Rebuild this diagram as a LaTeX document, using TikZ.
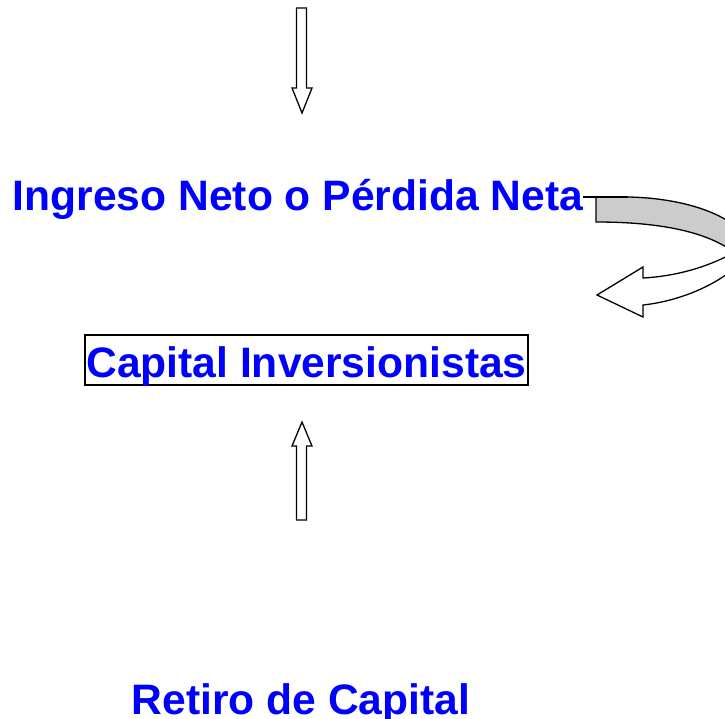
\documentclass[tikz,border=0pt]{standalone}
\usepackage{fontspec}
\setmainfont{Liberation Sans}
\usetikzlibrary{positioning}

\begin{document}
\begin{tikzpicture}[
  x=1pt, y=-1pt,
  big text/.style = {text=blue, font=\fontsize{42.6}{50}\selectfont\bfseries, inner sep=0pt, anchor=base},
  block arrow/.style = {draw, fill=white, line width=1.3pt, line join=miter},
  ]
  \useasboundingbox (0,0) rectangle (725,719);

  \node[big text] (ingreso) at (298,211) {Ingreso Neto o Pérdida Neta};
  \node[big text, draw=black, line width=1.4pt, text height=42pt, text depth=8pt, minimum width=443pt] (capital) at (306.5,377) {Capital Inversionistas};
  \node[big text] (retiro) at (301,714) {Retiro de Capital};

  % block arrows
  \draw[block arrow] (296.5,8) -- (306.5,8) -- (306.5,88) -- (312,88) -- (302,113) -- (292,88) -- (296.5,88) -- cycle;
  \draw[block arrow] (296.5,520) -- (306.5,520) -- (306.5,446) -- (312,446) -- (302,422) -- (292,446) -- (296.5,446) -- cycle;

  % curved arrow
  \coordinate (@1) at (583,197);
  \coordinate (@2) at (628,197);
  \begin{scope}
    \clip (0,0) rectangle (725,719);
    \draw[block arrow] (643,278) .. controls (680,276) and (712,265) .. (735,252) -- (750,250) -- (745,255) .. controls (735,275) and (690,300) .. (643,305) -- (643,317) -- (597,295) -- (643,267) -- cycle;
    \draw[block arrow, fill=gray!40] (596,197) -- (@2) .. controls (680,198) and (725,212) .. (745,235) -- (760,262) -- (745,262) .. controls (720,235) and (670,222) .. (596,222) -- cycle;
  \end{scope}
  \draw[line width=1.3pt] (@1) -- (@2);

\end{tikzpicture}
\end{document}
